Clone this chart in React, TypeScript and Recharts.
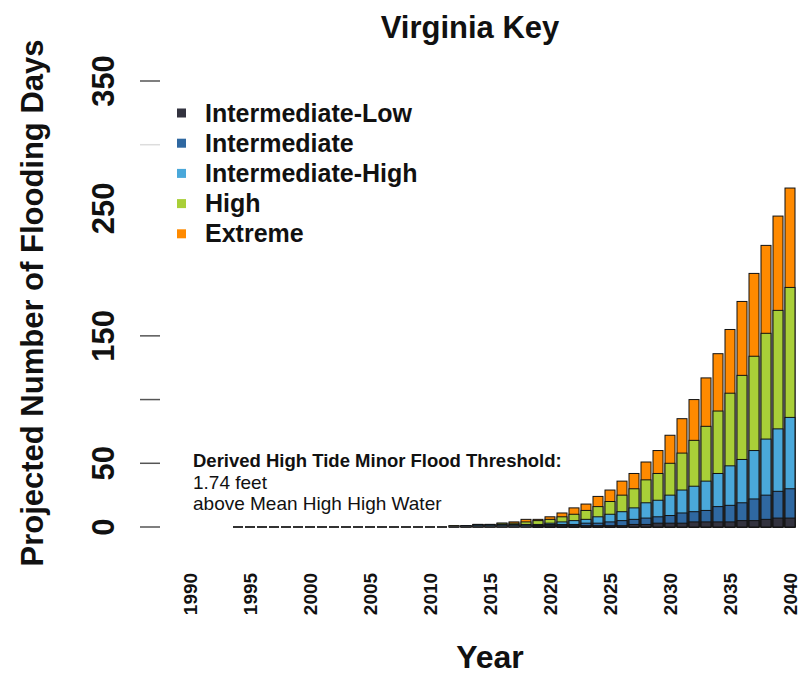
import { BarChart, Bar, XAxis, YAxis } from "recharts";

// Overlaid (not stacked) scenario bars, biggest scenario drawn first.
// Each series sits on its own hidden x axis so the bars share one slot.
const FONT = "'Liberation Sans', Arial, sans-serif";

const years = [
  1990, 1991, 1992, 1993, 1994, 1995, 1996, 1997, 1998, 1999,
  2000, 2001, 2002, 2003, 2004, 2005, 2006, 2007, 2008, 2009,
  2010, 2011, 2012, 2013, 2014, 2015, 2016, 2017, 2018, 2019,
  2020, 2021, 2022, 2023, 2024, 2025, 2026, 2027, 2028, 2029,
  2030, 2031, 2032, 2033, 2034, 2035, 2036, 2037, 2038, 2039, 2040,
];

// 1990-1993: no data, 1994-2011: zero days
const intLow = [
  null, null, null, null, 0, 0, 0, 0, 0, 0,
  0, 0, 0, 0, 0, 0, 0, 0, 0, 0,
  0, 0, 0, 0, 0, 0, 0, 0, 0, 1,
  1, 1, 1, 1, 1, 1, 1, 2, 2, 3,
  3, 3, 4, 4, 4, 4, 5, 5, 6, 7, 7,
];
const intermediate = [
  null, null, null, null, 0, 0, 0, 0, 0, 0,
  0, 0, 0, 0, 0, 0, 0, 0, 0, 0,
  0, 0, 0, 1, 1, 1, 1, 1, 1, 1,
  2, 2, 2, 3, 3, 4, 5, 6, 7, 8,
  9, 11, 12, 13, 16, 17, 19, 22, 25, 28, 30,
];
const intHigh = [
  null, null, null, null, 0, 0, 0, 0, 0, 0,
  0, 0, 0, 0, 0, 0, 0, 0, 0, 0,
  0, 0, 0, 1, 2, 2, 2, 2, 2, 2,
  3, 4, 5, 6, 8, 10, 12, 15, 19, 21,
  25, 29, 32, 36, 42, 48, 53, 60, 69, 77, 86,
];
const high = [
  null, null, null, null, 0, 0, 0, 0, 0, 0,
  0, 0, 0, 0, 0, 0, 0, 0, 0, 0,
  0, 0, 1, 1, 2, 2, 3, 3, 4, 5,
  6, 8, 10, 13, 16, 20, 25, 30, 37, 42,
  50, 58, 68, 79, 91, 105, 119, 134, 152, 170, 188,
];
const extreme = [
  null, null, null, null, 0, 0, 0, 0, 0, 0,
  0, 0, 0, 0, 0, 0, 0, 0, 0, 0,
  0, 0, 1, 1, 2, 2, 3, 4, 6, 6,
  8, 11, 15, 18, 24, 29, 36, 42, 51, 60,
  72, 85, 100, 117, 136, 155, 177, 199, 221, 244, 266,
];

const yTicks = [0, 50, 100, 150, 200, 250, 300, 350];
const yLabels = [0, 50, 150, 250, 350];

const series = [
  { key: "extreme", name: "Extreme", color: "#ff8a00" },
  { key: "high", name: "High", color: "#a9cf38" },
  { key: "intHigh", name: "Intermediate-High", color: "#4aa8da" },
  { key: "intermediate", name: "Intermediate", color: "#2f68a1" },
  { key: "intLow", name: "Intermediate-Low", color: "#33333f" },
];
const legendOrder = ["intLow", "intermediate", "intHigh", "high", "extreme"];

const data = years.map((year, i) => ({
  year,
  intLow: intLow[i],
  intermediate: intermediate[i],
  intHigh: intHigh[i],
  high: high[i],
  extreme: extreme[i],
}));

function BarShape(props: any) {
  const { x, y, width, height, fill, payload, dataKey } = props;
  if (payload == null || payload[dataKey] == null) return <g />;
  if (!height || height < 1) {
    // R draws zero-height bars as a bare outline on the baseline
    return <line x1={x} x2={x + width} y1={y} y2={y} stroke="#333" strokeWidth={1.6} />;
  }
  return <rect x={x} y={y} width={width} height={height} fill={fill} stroke="#111" strokeWidth={1} />;
}

function YearTick({ x, y, payload }: any) {
  return (
    <text
      transform={`translate(${x + 7},${y + 67}) rotate(-90)`}
      textAnchor="middle"
      fontFamily={FONT}
      fontWeight="bold"
      fontSize={19}
      fill="#111"
    >
      {payload.value}
    </text>
  );
}

function CountTick({ x, y, payload }: any) {
  const v = payload.value;
  const lineColor = v === 200 || v === 250 ? "none" : v === 300 ? "#ddd" : "#555";
  return (
    <g>
      <line x1={x - 44} x2={x - 24} y1={y} y2={y} stroke={lineColor} strokeWidth={1.5} />
      {yLabels.includes(v) && (
        <text
          transform={`translate(${x - 70},${y}) rotate(-90)`}
          textAnchor="middle"
          fontFamily={FONT}
          fontWeight="bold"
          fontSize={31}
          fill="#111"
        >
          {v}
        </text>
      )}
    </g>
  );
}

export default function App() {
  return (
    <div style={{ position: "absolute", left: 0, top: 0, width: 802, height: 675, background: "#fff" }}>
      <BarChart
        width={802}
        height={675}
        data={data}
        margin={{ top: 81, right: 6, bottom: 118, left: 0 }}
        barGap={0}
      >
        {series.map((s, i) => (
          <XAxis
            key={s.key}
            xAxisId={i}
            dataKey="year"
            hide={i !== 0}
            interval={4}
            tickLine={false}
            axisLine={false}
            tickSize={0}
            tickMargin={0}
            height={30}
            tick={<YearTick />}
          />
        ))}
        <YAxis
          width={184}
          domain={[0, 350]}
          ticks={yTicks}
          interval={0}
          axisLine={false}
          tickLine={false}
          tickSize={0}
          tickMargin={0}
          tick={<CountTick />}
        />
        {series.map((s, i) => (
          <Bar
            key={s.key}
            xAxisId={i}
            dataKey={s.key}
            name={s.name}
            fill={s.color}
            barSize={10}
            shape={<BarShape />}
            isAnimationActive={false}
          />
        ))}
      </BarChart>
      <svg
        width={802}
        height={675}
        style={{ position: "absolute", left: 0, top: 0, pointerEvents: "none" }}
        fontFamily={FONT}
      >
        <text x={470} y={38} textAnchor="middle" fontSize={31} fontWeight="bold" fill="#111">
          Virginia Key
        </text>
        <text x={490} y={668} textAnchor="middle" fontSize={32} fontWeight="bold" fill="#111">
          Year
        </text>
        <text
          transform="translate(43,303) rotate(-90)"
          textAnchor="middle"
          fontSize={31}
          fontWeight="bold"
          fill="#111"
        >
          Projected Number of Flooding Days
        </text>
        {legendOrder.map((k, i) => {
          const s = series.find((d) => d.key === k)!;
          const cy = 113 + i * 30.2;
          return (
            <g key={k}>
              <rect x={177} y={cy - 4.5} width={9} height={9} fill={s.color} />
              <text x={205} y={cy + 8.5} fontSize={25} fontWeight="bold" fill="#111">
                {s.name}
              </text>
            </g>
          );
        })}
        <text x={193} y={467} fontSize={18.5} fontWeight="bold" fill="#111">
          Derived High Tide Minor Flood Threshold:
        </text>
        <text x={193} y={489} fontSize={19} fill="#111">
          1.74 feet
        </text>
        <text x={193} y={510} fontSize={19} fill="#111">
          above Mean High High Water
        </text>
      </svg>
    </div>
  );
}
